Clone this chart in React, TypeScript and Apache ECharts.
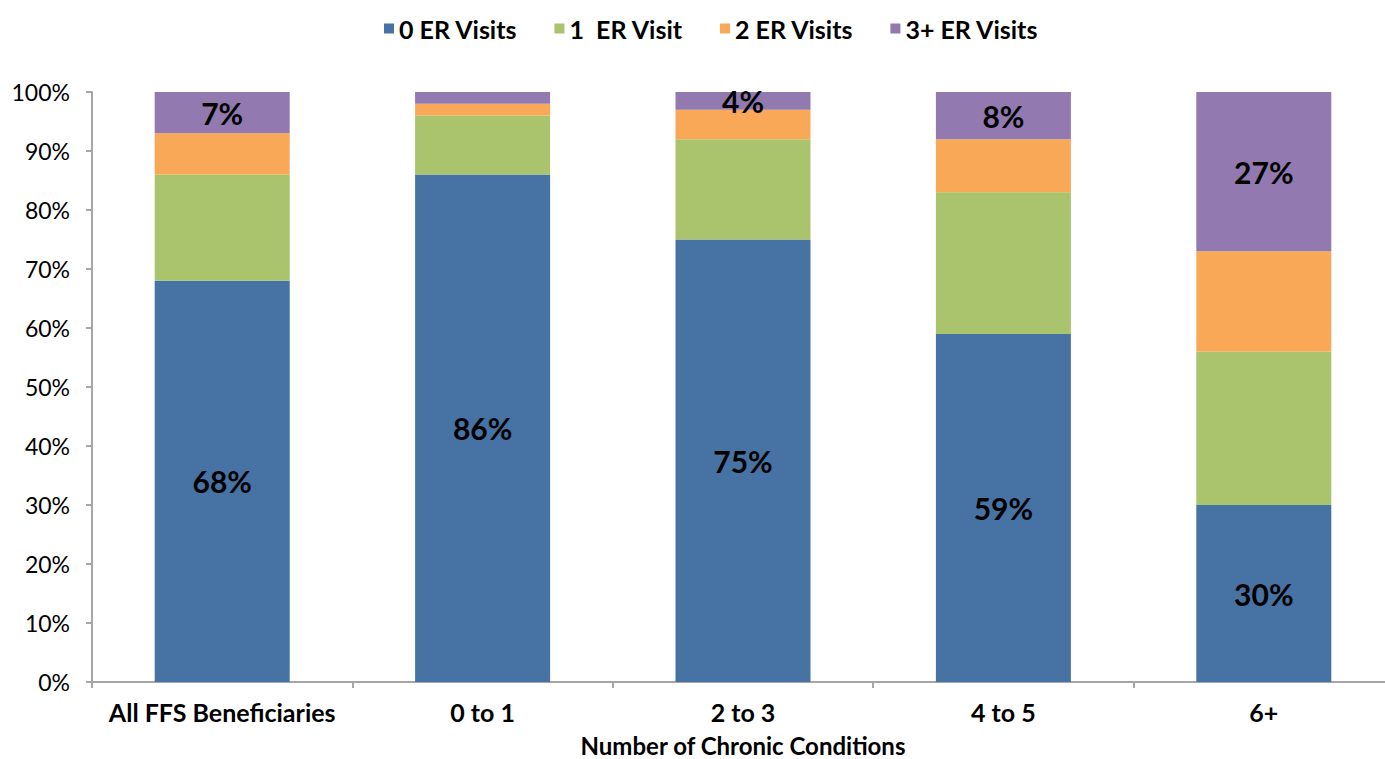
import React, { useEffect, useRef } from "react";
import * as echarts from "echarts";

const categories = ["All FFS Beneficiaries", "0 to 1", "2 to 3", "4 to 5", "6+"];
const seriesNames = ["0 ER Visits", "1  ER Visit", "2 ER Visits", "3+ ER Visits"];
const zeroVisits = [68, 86, 75, 59, 30];
const oneVisit = [18, 10, 17, 24, 26];
const twoVisits = [7, 2, 5, 9, 17];
const threePlusVisits = [7, 2, 4, 8, 27];
const showPurpleLabel = [true, false, true, true, true];
const yTicks = [0, 10, 20, 30, 40, 50, 60, 70, 80, 90, 100];

const colors = ["#4673A4", "#A9C46C", "#F9A857", "#9279AF"];
const FONT = "Lato, 'Open Sans', sans-serif";

export default function App() {
  const ref = useRef<HTMLDivElement>(null);
  useEffect(() => {
    if (!ref.current) return;
    const chart = echarts.init(ref.current, null, { renderer: "svg" });
    const labelStyle = {
      show: true,
      position: "inside",
      formatter: (p: any) => p.value + "%",
      color: "#000",
      fontSize: 30,
      fontWeight: "bold",
      fontFamily: FONT,
    };
    const allData = [zeroVisits, oneVisit, twoVisits, threePlusVisits];
    const series = allData.map((vals, i) => ({
      name: seriesNames[i],
      type: "bar",
      stack: "total",
      barWidth: 135,
      itemStyle: { color: colors[i] },
      data: vals.map((v, j) => {
        if (i === 0) return { value: v, label: labelStyle };
        if (i === 3 && showPurpleLabel[j]) return { value: v, label: labelStyle };
        return { value: v, label: { show: false } };
      }),
    }));
    chart.setOption({
      animation: false,
      textStyle: { fontFamily: FONT },
      legend: {
        top: 11,
        left: 379,
        itemWidth: 10,
        itemHeight: 10,
        itemGap: 37,
        icon: "rect",
        textStyle: { fontSize: 25, fontWeight: "bold", color: "#000", fontFamily: FONT },
        data: seriesNames,
      },
      grid: { left: 92, right: -9, top: 92, bottom: 77, outerBoundsMode: "none", containLabel: false },
      xAxis: {
        type: "category",
        data: categories,
        name: "Number of Chronic Conditions",
        nameLocation: "middle",
        nameGap: 51,
        nameTextStyle: { fontSize: 24, fontWeight: "bold", color: "#000", fontFamily: FONT },
        axisLine: { lineStyle: { color: "#A6A6A6", width: 2 } },
        axisTick: { show: true, length: 6, lineStyle: { color: "#A6A6A6", width: 2 } },
        axisLabel: {
          interval: 0,
          fontSize: 25,
          fontWeight: "bold",
          color: "#000",
          margin: 17,
          fontFamily: FONT,
        },
      },
      yAxis: {
        type: "value",
        min: 0,
        max: 100,
        interval: 10,
        axisLine: { show: true, lineStyle: { color: "#A6A6A6", width: 2 } },
        axisTick: { show: true, length: 6, lineStyle: { color: "#A6A6A6", width: 2 } },
        splitLine: { show: false },
        axisLabel: {
          fontSize: 23,
          color: "#000",
          margin: 22,
          fontFamily: FONT,
          formatter: (v: number) => (yTicks.includes(v) ? v + "%" : ""),
        },
      },
      series,
    });
    return () => chart.dispose();
  }, []);
  return (
    <div
      ref={ref}
      style={{ position: "fixed", left: 0, top: 0, width: 1385, height: 759, background: "#fff" }}
    />
  );
}
